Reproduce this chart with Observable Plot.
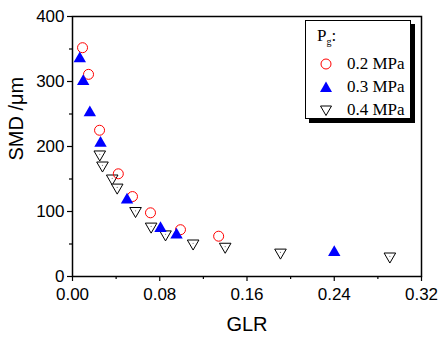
<!DOCTYPE html>
<html><head><meta charset="utf-8">
<script src="https://cdn.jsdelivr.net/npm/d3@7"></script>
<script src="https://cdn.jsdelivr.net/npm/@observablehq/plot@0.6"></script>
<style>
body{margin:0;background:#fff;}
#wrap{position:relative;width:439px;height:337px;}
#legend{position:absolute;left:305px;top:20px;width:104px;height:97px;border:1px solid #000;background:#fff;box-shadow:4px 4px 0 #000;font-family:"Liberation Serif","Times New Roman",serif;font-size:17px;color:#000;}
#legend .title{position:absolute;left:11px;top:5px;}
#legend .row{position:absolute;left:12px;height:20px;display:flex;align-items:center;white-space:nowrap;}
#legend .row span{margin-left:13px;}
</style></head>
<body><div id="wrap"></div>
<script>
const seriesNames = ["0.2 MPa", "0.3 MPa", "0.4 MPa"];
const glr02 = [0.0092, 0.0147, 0.0248, 0.042, 0.055, 0.0715, 0.099, 0.134];
const smd02 = [352, 311, 225, 158, 123, 98, 72, 62];
const glr03 = [0.0067, 0.0098, 0.0159, 0.0257, 0.050, 0.0807, 0.0954, 0.240];
const smd03 = [335, 300, 252, 205, 118, 74, 64, 37];
const glr04 = [0.025, 0.0275, 0.0364, 0.041, 0.0578, 0.0721, 0.0853, 0.1106, 0.140, 0.1907, 0.291];
const smd04 = [188, 171, 151, 137, 101, 77, 65, 51, 46, 37, 31];
const xTicks = [0, 0.08, 0.16, 0.24, 0.32];
const xMinor = [0.04, 0.12, 0.20, 0.28];
const yTicks = [0, 100, 200, 300, 400];
const yMinor = [50, 150, 250, 350];

const d02 = glr02.map((x, i) => ({x, y: smd02[i]}));
const d03 = glr03.map((x, i) => ({x, y: smd03[i]}));
const d04 = glr04.map((x, i) => ({x, y: smd04[i]}));

const plot = Plot.plot({
  width: 439, height: 337,
  marginLeft: 72, marginRight: 18, marginTop: 16, marginBottom: 61,
  style: {fontFamily: "'Liberation Sans', Arial, sans-serif", fontSize: "17px", background: "#fff", color: "#000"},
  x: {domain: [0, 0.32]},
  y: {domain: [0, 400]},
  marks: [
    Plot.frame({stroke: "#000", strokeWidth: 1.5}),
    Plot.axisX(xTicks, {tickSize: 5, tickPadding: 6, tickFormat: d3.format(".2f"), strokeWidth: 1.2, label: null, fontSize: 17}),
    Plot.axisX(xMinor, {tickSize: 3, tickFormat: () => "", strokeWidth: 1.2, label: null}),
    Plot.axisY(yTicks, {tickSize: 5, tickPadding: 3, tickFormat: d3.format("d"), strokeWidth: 1.2, label: null, fontSize: 17}),
    Plot.axisY(yMinor, {tickSize: 3, tickFormat: () => "", strokeWidth: 1.2, label: null}),
    Plot.text(["GLR"], {frameAnchor: "bottom", dy: 54, fontSize: 20, lineAnchor: "bottom"}),
    Plot.text(["SMD /μm"], {frameAnchor: "left", dx: -56, dy: 14, rotate: -90, fontSize: 20}),
    Plot.dot(d04, {x: "x", y: "y", symbol: "triangle", rotate: 180, r: 4.3, stroke: "#000", fill: "#fff", strokeWidth: 1}),
    Plot.dot(d04, {x: "x", y: "y", r: 0.6, fill: "#777"}),
    Plot.dot(d02, {x: "x", y: "y", symbol: "circle", r: 5, stroke: "#ff0000", fill: "none", strokeWidth: 1}),
    Plot.dot(d03, {x: "x", y: "y", symbol: "triangle", r: 4.6, fill: "#0000ff", stroke: "none"})
  ]
});
const wrap = document.getElementById("wrap");
wrap.appendChild(plot);

const legend = document.createElement("div");
legend.id = "legend";
const sym = [
  '<svg width="16" height="16"><circle cx="8" cy="8" r="5" fill="none" stroke="#ff0000"/></svg>',
  '<svg width="16" height="16"><path d="M8,2.5L14,13H2Z" fill="#0000ff"/></svg>',
  '<svg width="16" height="16"><path d="M8,13.5L2.5,4H13.5Z" fill="#fff" stroke="#000"/></svg>'
];
let html = '<div class="title">P<sub style="font-size:10px">g</sub>:</div>';
seriesNames.forEach((s, i) => {
  html += `<div class="row" style="top:${33 + i * 23}px">${sym[i]}<span>${s}</span></div>`;
});
legend.innerHTML = html;
wrap.appendChild(legend);
</script>
</body></html>
